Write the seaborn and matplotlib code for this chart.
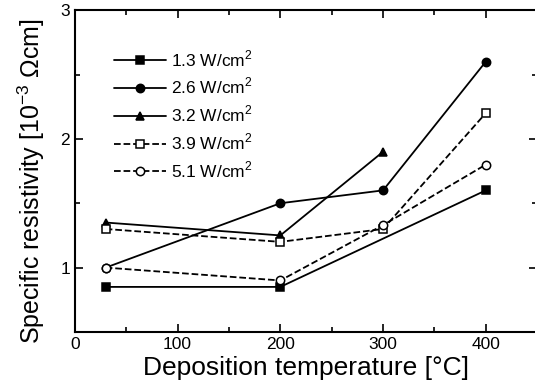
import numpy as np
import pandas as pd
import matplotlib
matplotlib.use("Agg")
import matplotlib.pyplot as plt
import seaborn as sns
from matplotlib.ticker import MultipleLocator

# power densities and their measured curves
labels = ['1.3 W/cm$^2$', '2.6 W/cm$^2$', '3.2 W/cm$^2$', '3.9 W/cm$^2$', '5.1 W/cm$^2$']
temp_13 = [30, 200, 400]
rho_13 = [0.85, 0.85, 1.6]
temp_26 = [30, 200, 300, 400]
rho_26 = [1.0, 1.5, 1.6, 2.6]
temp_32 = [30, 200, 300]
rho_32 = [1.35, 1.25, 1.9]
temp_39 = [30, 200, 300, 400]
rho_39 = [1.3, 1.2, 1.3, 2.2]
temp_51 = [30, 200, 300, 400]
rho_51 = [1.0, 0.9, 1.33, 1.8]

series = [
    (temp_13, rho_13, 's', 'black', '-'),
    (temp_26, rho_26, 'o', 'black', '-'),
    (temp_32, rho_32, '^', 'black', '-'),
    (temp_39, rho_39, 's', 'white', '--'),
    (temp_51, rho_51, 'o', 'white', '--'),
]

sns.set_style("ticks")
plt.rcParams['font.family'] = ['Liberation Sans', 'DejaVu Sans']
plt.rcParams['mathtext.fontset'] = 'custom'
plt.rcParams['mathtext.rm'] = 'Liberation Sans'
plt.rcParams['text.color'] = 'black'
plt.rcParams['axes.labelcolor'] = 'black'

fig = plt.figure(figsize=(5.35, 3.91), dpi=100)
ax = fig.add_axes([0.140, 0.151, 0.864, 0.823])

for (t, r, mk, fc, ls), lab in zip(series, labels):
    df = pd.DataFrame({'T': t, 'rho': r})
    sns.lineplot(data=df, x='T', y='rho', ax=ax, color='black', lw=1.3,
                 linestyle=ls, marker=mk, markersize=6, markerfacecolor=fc,
                 markeredgecolor='black', markeredgewidth=1.1, label=lab)

ax.set_xlim(0, 450)
ax.set_ylim(0.5, 3)
ax.xaxis.set_major_locator(MultipleLocator(100))
ax.xaxis.set_minor_locator(MultipleLocator(50))
ax.yaxis.set_major_locator(MultipleLocator(1))
ax.yaxis.set_minor_locator(MultipleLocator(0.5))
ax.tick_params(which='both', direction='in', top=True, right=True,
               width=1.2, labelsize=12.5, colors='black')
ax.tick_params(which='major', length=6)
ax.tick_params(which='minor', length=3.5)
for sp in ax.spines.values():
    sp.set_linewidth(1.5)
    sp.set_color('black')

ax.set_xlabel('Deposition temperature [°C]', fontsize=19, labelpad=3)
ax.set_ylabel('Specific resistivity [10$^{-3}$ Ωcm]', fontsize=18)
ax.yaxis.set_label_coords(-0.06, 0.47)

ax.legend(loc='upper left', bbox_to_anchor=(0.05, 0.93), frameon=False,
          fontsize=12.5, handlelength=3, numpoints=1, labelspacing=0.42,
          handletextpad=0.3)

fig.savefig('out.png', dpi=100)
